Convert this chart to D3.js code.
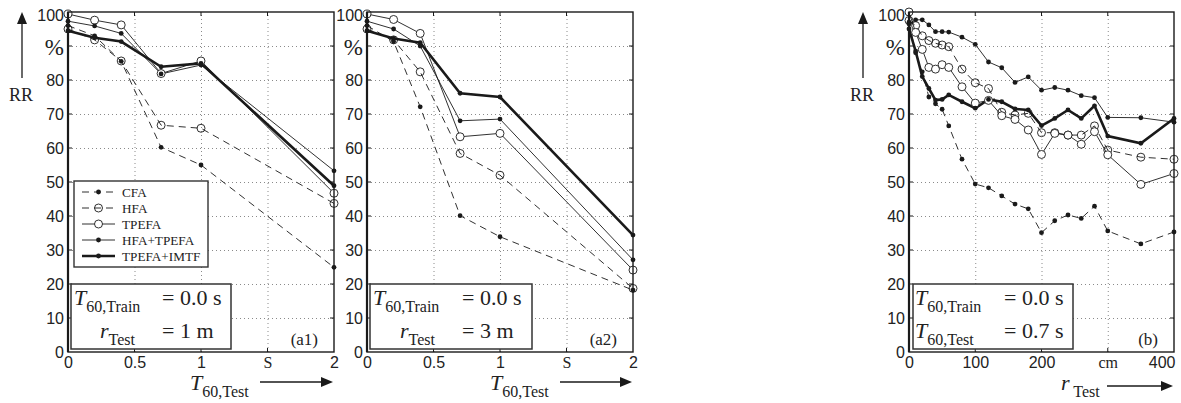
<!DOCTYPE html>
<html>
<head>
<meta charset="utf-8">
<script src="https://cdn.jsdelivr.net/npm/d3@7"></script>
<style>
	body { margin: 0; background: #fff; }
	svg { display: block; }
	.grid line { stroke: #8a8a8a; stroke-width: 1; stroke-dasharray: 1, 3; }
	.grid path { display: none; }
	.lab path { display: none; }
	.lab text { font-family: "Liberation Sans", Arial, sans-serif; font-size: 16px; fill: #222; }
	.serif { font-family: "Liberation Serif", "Times New Roman", serif; fill: #222; }
</style>
</head>
<body>
<svg id="chart" width="1181" height="403"></svg>
<script>

/////////////////////////////////////////////////////////
/////////////////-----DATA-----//////////////////////////
/////////////////////////////////////////////////////////
let seriesNames = ['CFA', 'HFA', 'TPEFA', 'HFA+TPEFA', 'TPEFA+IMTF'];

let t60Test = [0, 0.2, 0.4, 0.7, 1, 2];
let rTest = [0, 10, 20, 30, 40, 50, 60, 80, 100, 120, 140, 160, 180, 200, 220, 240, 260, 280, 300, 350, 400];

// (a1) T60,Train = 0.0 s, rTest = 1 m
let a1CFA       = [96, 93, 85.5, 60.2, 55, 24.9];
let a1HFA       = [95, 91.8, 85.6, 66.7, 65.8, 43.7];
let a1TPEFA     = [99.4, 97.6, 96.2, 81.9, 85.6, 46.7];
let a1HFATPEFA  = [97.3, 95.9, 93.7, 81.8, 84.4, 53.3];
let a1IMTF      = [94.5, 92.4, 91.3, 83.9, 84.9, 48.9];

// (a2) T60,Train = 0.0 s, rTest = 3 m
let a2CFA       = [96, 91.3, 72.1, 40.1, 33.9, 18.2];
let a2HFA       = [95, 91.8, 82.4, 58.4, 52, 18.7];
let a2TPEFA     = [99.4, 97.8, 93.7, 63.3, 64.3, 24.1];
let a2HFATPEFA  = [97.3, 95, 90, 68, 68.5, 27.1];
let a2IMTF      = [94.5, 92.2, 91, 76.1, 75, 34.4];

// (b) T60,Train = 0.0 s, T60,Test = 0.7 s
let bCFA      = [97, 88, 82.4, 75, 73, 71.4, 66.5, 56.7, 49.4, 48.3, 45.9, 43.5, 42.1, 35.1, 38.6, 40.3, 39.3, 42.9, 35.6, 31.8, 35.3];
let bHFA      = [97.5, 96, 93, 91.6, 90.8, 90.3, 89.8, 83.2, 79.2, 77.5, 70.5, 69.7, 70.2, 64.5, 64.5, 63.8, 63.8, 66.5, 59.4, 57.3, 56.7];
let bTPEFA    = [100, 94, 89, 83.7, 83.2, 84.5, 83.7, 78, 73.2, 74, 69.5, 68.4, 65.3, 58.1, 64.3, 63.8, 61.1, 64.8, 58, 49.3, 52.5];
let bHFATPEFA = [96.5, 97.7, 97.7, 96.2, 94.2, 94.2, 94.1, 92.6, 90.5, 85.3, 83.6, 79.3, 80.9, 77, 77.8, 77, 75.4, 74.8, 69, 68.9, 67.6];
let bIMTF     = [95, 88.5, 81, 77.5, 74.1, 74.3, 75.6, 73.6, 71.7, 74.3, 73.6, 71.5, 71.2, 66.6, 68.7, 71.2, 68.7, 72.4, 63.5, 61.4, 68.7];

let yTicks = [0, 10, 20, 30, 40, 50, 60, 70, 80, 90, 100];
let xTicksA = [0, 0.5, 1, 1.5, 2];
let xLabelsA = ['0', '0.5', '1', 'S', '2'];
let xTicksB = [0, 100, 200, 300, 400];
let xLabelsB = ['0', '100', '200', 'cm', '400'];


/////////////////////////////////////////////////////////
/////////////////-----STYLE-----/////////////////////////
/////////////////////////////////////////////////////////
let look = {
	'CFA':        {dash: '7,5', width: 0.9, marker: 'dot'},
	'HFA':        {dash: '7,5', width: 0.9, marker: 'ring'},
	'TPEFA':      {dash: null,  width: 0.9, marker: 'circle'},
	'HFA+TPEFA':  {dash: null,  width: 0.9, marker: 'dot'},
	'TPEFA+IMTF': {dash: null,  width: 2.6, marker: 'dot'}
};
let ink = '#1a1a1a';
let plotTop = 12, plotBottom = 352;

let svg = d3.select('#chart');

function marker(g, type, cx, cy) {
	if (type == 'dot') {
		g.append('circle').attr('cx', cx).attr('cy', cy).attr('r', 2.4).attr('fill', ink);
	} else {
		g.append('circle').attr('cx', cx).attr('cy', cy).attr('r', 4)
		.attr('fill', type == 'circle' ? '#fff' : 'none')
		.attr('stroke', ink).attr('stroke-width', 0.9);
	}
}

function arrow(x1, y1, x2, y2) {
	let len = Math.hypot(x2 - x1, y2 - y1), ux = (x2 - x1) / len, uy = (y2 - y1) / len;
	let hl = 12, hw = 5;
	let bx = x2 - ux * hl, by = y2 - uy * hl;
	svg.append('line').attr('x1', x1).attr('y1', y1).attr('x2', bx).attr('y2', by)
	.attr('stroke', ink).attr('stroke-width', 1.3);
	svg.append('path')
	.attr('d', 'M' + x2 + ',' + y2 + 'L' + (bx - uy * hw) + ',' + (by + ux * hw) + 'L' + (bx + uy * hw) + ',' + (by - ux * hw) + 'Z')
	.attr('fill', ink);
}

function symText(x, y, sym, sub, size, subSize) {
	let t = svg.append('text').attr('class', 'serif').attr('x', x).attr('y', y);
	t.append('tspan').attr('font-style', 'italic').attr('font-size', size).text(sym);
	t.append('tspan').attr('font-size', subSize).attr('dy', size * 0.3).text(sub);
	return t;
}

/////////////////////////////////////////////////////////
/////////////////-----PANEL-----/////////////////////////
/////////////////////////////////////////////////////////
function drawPanel(p) {
	let x = d3.scaleLinear().domain(p.domain).range([p.x0, p.x1]);
	let y = d3.scaleLinear().domain([0, 100]).range([plotBottom, plotTop]);
	let w = p.x1 - p.x0, h = plotBottom - plotTop;
	let g = svg.append('g');

	// dotted grid
	g.append('g').attr('class', 'grid').attr('transform', 'translate(0,' + plotBottom + ')')
	.call(d3.axisBottom(x).tickValues(p.ticks.slice(1, -1)).tickSize(-h).tickFormat(''));
	g.append('g').attr('class', 'grid').attr('transform', 'translate(' + p.x0 + ',0)')
	.call(d3.axisLeft(y).tickValues(yTicks.slice(1, -1)).tickSize(-w).tickFormat(''));

	// small ticks on the inside of the frame
	let tk = g.append('g').attr('stroke', ink).attr('stroke-width', 1);
	yTicks.slice(1, -1).forEach(function(v) {
		tk.append('line').attr('x1', p.x0).attr('x2', p.x0 + 4).attr('y1', y(v)).attr('y2', y(v));
		tk.append('line').attr('x1', p.x1).attr('x2', p.x1 - 4).attr('y1', y(v)).attr('y2', y(v));
	});
	p.ticks.slice(1, -1).forEach(function(v) {
		tk.append('line').attr('x1', x(v)).attr('x2', x(v)).attr('y1', plotBottom).attr('y2', plotBottom - 4);
		tk.append('line').attr('x1', x(v)).attr('x2', x(v)).attr('y1', plotTop).attr('y2', plotTop + 4);
	});

	// tick labels
	let xa = g.append('g').attr('class', 'lab').attr('transform', 'translate(0,' + plotBottom + ')')
	.call(d3.axisBottom(x).tickValues(p.ticks).tickSize(0).tickPadding(5).tickFormat(function(d, i) { return p.labels[i]; }));
	xa.selectAll('text').filter(function(d, i) { return isNaN(+p.labels[i]); })
	.style('font-family', '"Liberation Serif", serif').style('font-size', '16px');
	if (p.lastEnd) {
		xa.selectAll('text').filter(function(d, i) { return i == p.ticks.length - 1; })
		.attr('text-anchor', 'end').attr('x', 1);
	}

	let ya = g.append('g').attr('class', 'lab').attr('transform', 'translate(' + (p.x0 - 2) + ',0)')
	.call(d3.axisLeft(y).tickValues(yTicks).tickSize(0).tickPadding(2).tickFormat(function(d) { return d == 90 ? '%' : d; }));
	ya.selectAll('text').filter(function(d) { return d == 90; })
	.style('font-family', '"Liberation Serif", serif').style('font-size', '23px').attr('dy', '0.36em');
	ya.selectAll('text').filter(function(d) { return d == 100; }).attr('dy', '0.55em');

	// series
	seriesNames.forEach(function(name, k) {
		let vals = p.series[k], st = look[name];
		let line = d3.line().x(function(d, i) { return x(p.xs[i]); }).y(function(d) { return y(d); });
		g.append('path').attr('d', line(vals)).attr('fill', 'none').attr('stroke', ink)
		.attr('stroke-width', st.width).attr('stroke-dasharray', st.dash);
	});
	seriesNames.forEach(function(name, k) {
		p.series[k].forEach(function(v, i) { marker(g, look[name].marker, x(p.xs[i]), y(v)); });
	});

	// frame
	g.append('rect').attr('x', p.x0).attr('y', plotTop).attr('width', w).attr('height', h)
	.attr('fill', 'none').attr('stroke', ink).attr('stroke-width', 1.4);
	g.append('line').attr('x1', p.x0).attr('x2', p.x0).attr('y1', plotTop).attr('y2', plotBottom)
	.attr('stroke', ink).attr('stroke-width', 2.2);

	// info box
	let b = p.box;
	svg.append('rect').attr('x', b.x).attr('y', 284).attr('width', b.w).attr('height', 65)
	.attr('fill', '#fff').attr('stroke', '#333').attr('stroke-width', 1.5);
	b.lines.forEach(function(l, i) {
		let yy = 305 + i * 33;
		symText(b.x + l.dx, yy, l.sym, l.sub, 22, 16);
		svg.append('text').attr('class', 'serif').attr('x', b.x + b.vx).attr('y', yy)
		.attr('font-size', 22).text(l.val);
	});

	// panel tag
	svg.append('text').attr('class', 'serif').attr('x', p.x1 - 16).attr('y', 345)
	.attr('text-anchor', 'end').attr('font-size', 17).text(p.tag);

	// x-axis title with arrow
	symText(p.xt, 390, p.xsym, p.xsub, 22, 16);
	arrow(p.ax, p.ay, p.x1 - 1, p.ay);

	if (p.rr) {
		svg.append('text').attr('class', 'serif').attr('x', p.x0 - 47).attr('y', 101)
		.attr('text-anchor', 'middle').attr('font-size', 18).text('RR');
		arrow(p.x0 - 46, 78, p.x0 - 46, 12);
	}
}

function drawLegend(x0, y0) {
	svg.append('rect').attr('x', x0).attr('y', y0).attr('width', 134).attr('height', 86)
	.attr('fill', '#fff').attr('stroke', '#333').attr('stroke-width', 1.4);
	seriesNames.forEach(function(name, i) {
		let yy = y0 + 11 + i * 16, st = look[name];
		svg.append('line').attr('x1', x0 + 8).attr('x2', x0 + 41).attr('y1', yy).attr('y2', yy)
		.attr('stroke', ink).attr('stroke-width', st.width).attr('stroke-dasharray', st.dash);
		marker(svg, st.marker, x0 + 24.5, yy);
		svg.append('text').attr('class', 'serif').attr('x', x0 + 48).attr('y', yy + 5)
		.attr('font-size', 13.2).text(name);
	});
}

drawPanel({
	x0: 68, x1: 334, domain: [0, 2], xs: t60Test, ticks: xTicksA, labels: xLabelsA,
	series: [a1CFA, a1HFA, a1TPEFA, a1HFATPEFA, a1IMTF],
	box: {x: 71, w: 160, vx: 91, lines: [
		{dx: 3, sym: 'T', sub: '60,Train', val: '= 0.0 s'},
		{dx: 29, sym: 'r', sub: 'Test', val: '= 1 m'}]},
	tag: '(a1)', xt: 190, xsym: 'T', xsub: '60,Test', ax: 260, ay: 382, rr: true
});
drawLegend(74, 181);

drawPanel({
	x0: 367, x1: 633, domain: [0, 2], xs: t60Test, ticks: xTicksA, labels: xLabelsA,
	series: [a2CFA, a2HFA, a2TPEFA, a2HFATPEFA, a2IMTF],
	box: {x: 370, w: 162, vx: 92, lines: [
		{dx: 3, sym: 'T', sub: '60,Train', val: '= 0.0 s'},
		{dx: 30, sym: 'r', sub: 'Test', val: '= 3 m'}]},
	tag: '(a2)', xt: 490, xsym: 'T', xsub: '60,Test', ax: 560, ay: 382, rr: false
});

drawPanel({
	x0: 909, x1: 1174, domain: [0, 400], xs: rTest, ticks: xTicksB, labels: xLabelsB, lastEnd: true,
	series: [bCFA, bHFA, bTPEFA, bHFATPEFA, bIMTF],
	box: {x: 913, w: 160, vx: 91, lines: [
		{dx: 2, sym: 'T', sub: '60,Train', val: '= 0.0 s'},
		{dx: 2, sym: 'T', sub: '60,Test', val: '= 0.7 s'}]},
	tag: '(b)', xt: 1061, xsym: 'r', xsub: ' Test', ax: 1107, ay: 386, rr: true
});

</script>
</body>
</html>
